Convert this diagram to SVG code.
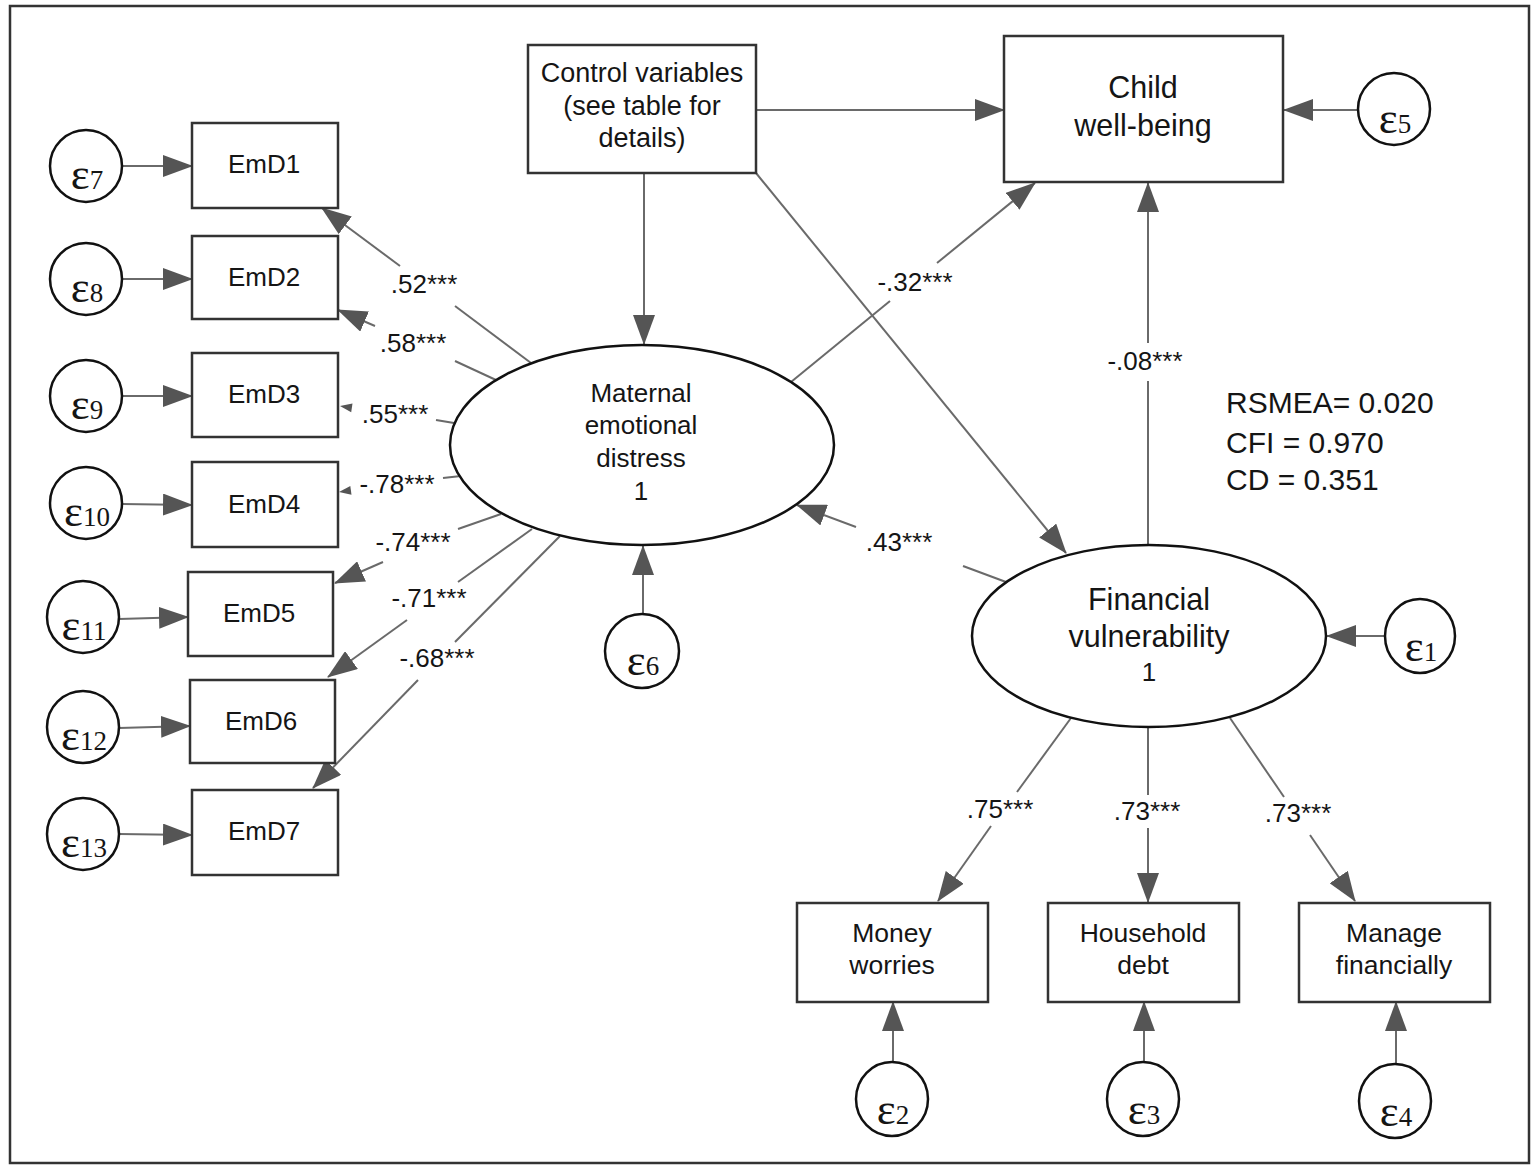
<svg xmlns="http://www.w3.org/2000/svg" width="1537" height="1166" viewBox="0 0 1537 1166">
<style>
  .box { fill: #fff; stroke: #333; stroke-width: 2.5; }
  .lat { fill: #fff; stroke: #111; stroke-width: 2.5; }
  .err { fill: #fff; stroke: #111; stroke-width: 2.5; }
  .t { font-family: "Liberation Sans", Arial, sans-serif; fill: #151515; text-anchor: middle; }
  .t24 { font-size: 26px; }
  .tc { font-size: 27px; }
  .tb { font-size: 26.5px; }
  .t30 { font-size: 30.5px; }
  .lab { font-family: "Liberation Sans", Arial, sans-serif; font-size: 26px; fill: #151515; text-anchor: middle; }
  .stat { font-family: "Liberation Sans", Arial, sans-serif; font-size: 30px; fill: #151515; }
  .eps { font-family: "Liberation Serif", "Times New Roman", serif; font-size: 45px; fill: #151515; text-anchor: middle; }
  .sub { font-size: 27px; }
  .c { stroke: #6a6a6a; stroke-width: 2; fill: none; }
  .ca { stroke: #6a6a6a; stroke-width: 2; fill: none; marker-end: url(#ah); }
  .tip { fill: #555; }
</style>
<defs>
  <marker id="ah" viewBox="0 0 30 22" refX="29" refY="11" markerWidth="30" markerHeight="22" markerUnits="userSpaceOnUse" orient="auto">
    <path d="M0,0 L30,11 L0,22 z" fill="#555"/>
  </marker>
</defs>
<rect x="10" y="6" width="1519" height="1157" fill="#fff" stroke="#333" stroke-width="2.5"/>

<g id="connectors">
  <line class="ca" x1="122" y1="166" x2="192" y2="166"/>
  <line class="ca" x1="122" y1="279" x2="192" y2="279"/>
  <line class="ca" x1="122" y1="396" x2="192" y2="396"/>
  <line class="ca" x1="122" y1="504" x2="192" y2="505"/>
  <line class="ca" x1="119" y1="619" x2="188" y2="617"/>
  <line class="ca" x1="119" y1="728" x2="190" y2="726"/>
  <line class="ca" x1="119" y1="834" x2="192" y2="835"/>
  <line class="c" x1="531" y1="363" x2="455" y2="306"/>
  <line class="ca" x1="400" y1="266" x2="322" y2="208"/>
  <line class="c" x1="496" y1="380" x2="455" y2="361"/>
  <line class="ca" x1="375" y1="326" x2="338" y2="310"/>
  <line class="c" x1="454" y1="423" x2="436" y2="420"/>
  <polygon class="tip" points="340,406 352.5,403.5 351.2,412.2"/>
  <line class="c" x1="461" y1="476" x2="443" y2="478"/>
  <polygon class="tip" points="339,492 351.5,494.8 350.3,486"/>
  <line class="c" x1="501" y1="514" x2="458" y2="529"/>
  <line class="ca" x1="383" y1="562" x2="335" y2="583"/>
  <line class="c" x1="532" y1="529" x2="458" y2="582"/>
  <line class="ca" x1="407" y1="620" x2="328" y2="677"/>
  <line class="c" x1="560" y1="536" x2="455" y2="642"/>
  <line class="ca" x1="418" y1="680" x2="313" y2="788"/>
  <line class="ca" x1="756" y1="110" x2="1004" y2="110"/>
  <line class="ca" x1="644" y1="173" x2="644" y2="344"/>
  <line class="ca" x1="756" y1="173" x2="1066" y2="553"/>
  <line class="c" x1="791" y1="382" x2="890" y2="301"/>
  <line class="ca" x1="937" y1="263" x2="1035" y2="183"/>
  <line class="c" x1="1148" y1="546" x2="1148" y2="381"/>
  <line class="ca" x1="1148" y1="343" x2="1148" y2="183"/>
  <line class="c" x1="1006" y1="582" x2="963" y2="566"/>
  <line class="ca" x1="856" y1="527" x2="797" y2="505"/>
  <line class="ca" x1="1358" y1="110" x2="1284" y2="110"/>
  <line class="ca" x1="643" y1="614" x2="643" y2="546"/>
  <line class="ca" x1="1384" y1="636" x2="1327" y2="636"/>
  <line class="ca" x1="893" y1="1062" x2="893" y2="1002"/>
  <line class="ca" x1="1144" y1="1062" x2="1144" y2="1002"/>
  <line class="ca" x1="1396" y1="1064" x2="1396" y2="1002"/>
  <line class="c" x1="1071" y1="718" x2="1017" y2="792"/>
  <line class="ca" x1="991" y1="826" x2="938" y2="901"/>
  <line class="c" x1="1148" y1="727" x2="1148" y2="795"/>
  <line class="ca" x1="1148" y1="828" x2="1148" y2="902"/>
  <line class="c" x1="1230" y1="718" x2="1284" y2="797"/>
  <line class="ca" x1="1310" y1="835" x2="1355" y2="901"/>
</g>

<g id="labels">
  <text class="lab" x="424" y="293">.52***</text>
  <text class="lab" x="413" y="352">.58***</text>
  <text class="lab" x="395" y="423">.55***</text>
  <text class="lab" x="397" y="493">-.78***</text>
  <text class="lab" x="413" y="551">-.74***</text>
  <text class="lab" x="429" y="607">-.71***</text>
  <text class="lab" x="437" y="667">-.68***</text>
  <text class="lab" x="915" y="291">-.32***</text>
  <text class="lab" x="1145" y="370">-.08***</text>
  <text class="lab" x="899" y="551">.43***</text>
  <text class="lab" x="1000" y="818">.75***</text>
  <text class="lab" x="1147" y="820">.73***</text>
  <text class="lab" x="1298" y="822">.73***</text>
</g>

<g id="fit-stats">
  <text class="stat" x="1226" y="413">RSMEA= 0.020</text>
  <text class="stat" x="1226" y="453">CFI = 0.970</text>
  <text class="stat" x="1226" y="490">CD = 0.351</text>
</g>

<g id="control">
  <rect class="box" x="528" y="45" width="228" height="128"/>
  <text class="t tc" x="642" y="82">Control variables</text>
  <text class="t tc" x="642" y="115">(see table for</text>
  <text class="t tc" x="642" y="147">details)</text>
</g>
<g id="child">
  <rect class="box" x="1004" y="36" width="279" height="146"/>
  <text class="t t30" x="1143" y="98">Child</text>
  <text class="t t30" x="1143" y="136">well-being</text>
</g>
<g id="maternal">
  <ellipse class="lat" cx="642" cy="445" rx="192" ry="100"/>
  <text class="t t24" x="641" y="402">Maternal</text>
  <text class="t t24" x="641" y="434">emotional</text>
  <text class="t t24" x="641" y="467">distress</text>
  <text class="t t24" x="641" y="500">1</text>
</g>
<g id="financial">
  <ellipse class="lat" cx="1149" cy="636" rx="177" ry="91"/>
  <text class="t t30" x="1149" y="610">Financial</text>
  <text class="t t30" x="1149" y="647">vulnerability</text>
  <text class="t t24" x="1149" y="681">1</text>
</g>

<g id="emd1"><rect class="box" x="192" y="123" width="146" height="85"/><text class="t t24" x="264" y="173">EmD1</text></g>
<g id="emd2"><rect class="box" x="192" y="236" width="146" height="83"/><text class="t t24" x="264" y="286">EmD2</text></g>
<g id="emd3"><rect class="box" x="192" y="353" width="146" height="84"/><text class="t t24" x="264" y="403">EmD3</text></g>
<g id="emd4"><rect class="box" x="192" y="462" width="146" height="85"/><text class="t t24" x="264" y="513">EmD4</text></g>
<g id="emd5"><rect class="box" x="188" y="572" width="145" height="84"/><text class="t t24" x="259" y="622">EmD5</text></g>
<g id="emd6"><rect class="box" x="190" y="680" width="145" height="83"/><text class="t t24" x="261" y="730">EmD6</text></g>
<g id="emd7"><rect class="box" x="192" y="790" width="146" height="85"/><text class="t t24" x="264" y="840">EmD7</text></g>

<g id="money"><rect class="box" x="797" y="903" width="191" height="99"/><text class="t tb" x="892" y="942">Money</text><text class="t tb" x="892" y="974">worries</text></g>
<g id="debt"><rect class="box" x="1048" y="903" width="191" height="99"/><text class="t tb" x="1143" y="942">Household</text><text class="t tb" x="1143" y="974">debt</text></g>
<g id="manage"><rect class="box" x="1299" y="903" width="191" height="99"/><text class="t tb" x="1394" y="942">Manage</text><text class="t tb" x="1394" y="974">financially</text></g>

<g id="e7"><circle class="err" cx="86" cy="166" r="36"/><text class="eps" x="87" y="189">ε<tspan class="sub">7</tspan></text></g>
<g id="e8"><circle class="err" cx="86" cy="279" r="36"/><text class="eps" x="87" y="302">ε<tspan class="sub">8</tspan></text></g>
<g id="e9"><circle class="err" cx="86" cy="396" r="36"/><text class="eps" x="87" y="419">ε<tspan class="sub">9</tspan></text></g>
<g id="e10"><circle class="err" cx="86" cy="503" r="36"/><text class="eps" x="87" y="526">ε<tspan class="sub">10</tspan></text></g>
<g id="e11"><circle class="err" cx="83" cy="617" r="36"/><text class="eps" x="84" y="640">ε<tspan class="sub">11</tspan></text></g>
<g id="e12"><circle class="err" cx="83" cy="727" r="36"/><text class="eps" x="84" y="750">ε<tspan class="sub">12</tspan></text></g>
<g id="e13"><circle class="err" cx="83" cy="834" r="36"/><text class="eps" x="84" y="857">ε<tspan class="sub">13</tspan></text></g>
<g id="e5"><circle class="err" cx="1394" cy="109" r="36"/><text class="eps" x="1395" y="133">ε<tspan class="sub">5</tspan></text></g>
<g id="e6"><circle class="err" cx="642" cy="651" r="37"/><text class="eps" x="643" y="675">ε<tspan class="sub">6</tspan></text></g>
<g id="e1"><ellipse class="err" cx="1420" cy="636" rx="35" ry="37"/><text class="eps" x="1421" y="661">ε<tspan class="sub">1</tspan></text></g>
<g id="e2"><ellipse class="err" cx="892" cy="1099" rx="36" ry="37"/><text class="eps" x="893" y="1124">ε<tspan class="sub">2</tspan></text></g>
<g id="e3"><ellipse class="err" cx="1143" cy="1099" rx="36" ry="37"/><text class="eps" x="1144" y="1124">ε<tspan class="sub">3</tspan></text></g>
<g id="e4"><ellipse class="err" cx="1395" cy="1101" rx="36" ry="37"/><text class="eps" x="1396" y="1126">ε<tspan class="sub">4</tspan></text></g>
</svg>
